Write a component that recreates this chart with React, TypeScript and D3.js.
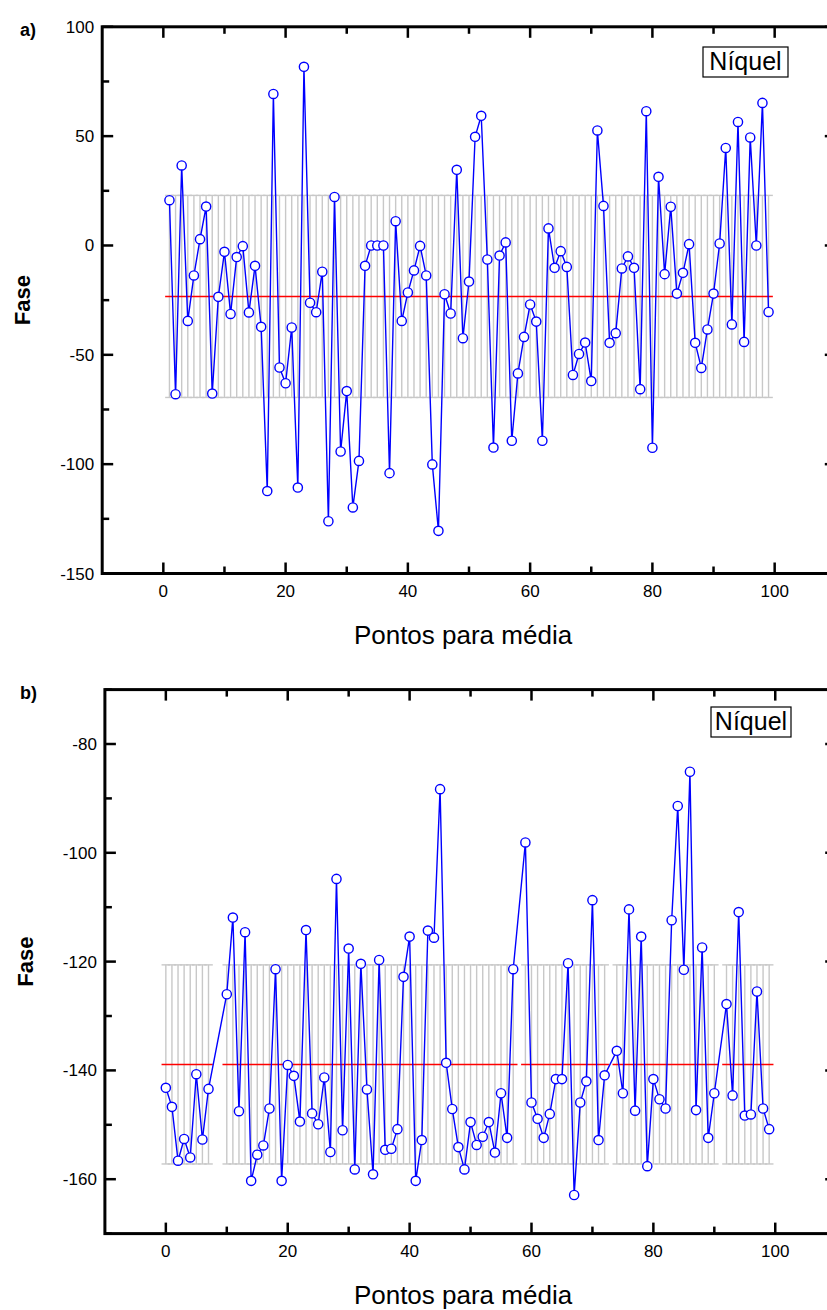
import React from 'react';
import * as d3 from 'd3';

// Horizontal axis (shared by both panels)
const xDomain: [number, number] = [-10, 110];
const xMajorTicks = [0, 20, 40, 60, 80, 100];
const xMinorTicks = [10, 30, 50, 70, 90];

// Panel a) — phase of the nickel sample, points 1..99
const phaseAStart = 1;
const phaseA: number[] = [
  20.7, -68.0, 36.6, -34.5, -13.7, 2.9, 17.8, -67.7, -23.5, -2.9,
  -31.3, -5.3, -0.3, -30.6, -9.3, -37.2, -112.3, 69.3, -55.8, -63.0,
  -37.5, -110.7, 81.7, -26.2, -30.5, -12.0, -126.1, 22.2, -94.2, -66.6,
  -119.8, -98.5, -9.3, 0.0, 0.0, 0.0, -104.1, 11.1, -34.5, -21.5,
  -11.4, -0.2, -13.7, -100.1, -130.5, -22.3, -31.1, 34.6, -42.4, -16.5,
  49.7, 59.3, -6.4, -92.4, -4.6, 1.4, -89.3, -58.5, -41.8, -27.0,
  -34.8, -89.3, 7.8, -10.2, -2.6, -9.8, -59.2, -49.6, -44.4, -62.0,
  52.6, 18.1, -44.5, -40.1, -10.5, -5.0, -10.2, -65.7, 61.4, -92.5,
  31.4, -13.1, 17.7, -22.0, -12.5, 0.6, -44.5, -56.0, -38.4, -22.0,
  0.9, 44.6, -36.1, 56.5, -44.1, 49.4, 0.0, 65.2, -30.4,
];
const meanA = -23.3;
const sdA = 46.2;
const yDomainA: [number, number] = [-150, 100];
const yMajorA = [-150, -100, -50, 0, 50, 100];
const yMinorA = [-125, -75, -25, 25, 75];

// Panel b) — points 0..99, null where no reading was taken
const phaseB: (number | null)[] = [
  -143.2, -146.7, -156.6, -152.6, -156.0, -140.7, -152.7, -143.4, null, null,
  -126.0, -111.9, -147.5, -114.6, -160.3, -155.5, -153.8, -147.0, -121.4, -160.3,
  -139.0, -141.0, -149.4, -114.2, -147.9, -149.9, -141.3, -155.0, -104.8, -151.0,
  -117.6, -158.2, -120.4, -143.5, -159.1, -119.7, -154.6, -154.4, -150.8, -122.8,
  -115.4, -160.3, -152.8, -114.3, -115.6, -88.3, -138.6, -147.1, -154.1, -158.2,
  -149.5, -153.7, -152.2, -149.5, -155.1, -144.2, -152.4, -121.4, null, -98.1,
  -145.9, -148.9, -152.4, -148.0, -141.6, -141.6, -120.3, -162.9, -145.9, -142.0,
  -108.7, -152.8, -140.9, null, -136.4, -144.2, -110.4, -147.4, -115.4, -157.6,
  -141.6, -145.3, -147.0, -112.4, -91.4, -121.5, -85.1, -147.3, -117.4, -152.4,
  -144.2, null, -127.8, -144.6, -110.9, -148.3, -148.1, -125.5, -147.0, -150.8,
];
const meanB = -138.9;
const sdB = 18.3;
const yDomainB: [number, number] = [-170, -70];
const yMajorB = [-160, -140, -120, -100, -80];
const yMinorB = [-170, -150, -130, -110, -90, -70];

const legendLabel = 'Níquel';
const xTitle = 'Pontos para média';
const yTitle = 'Fase';

const FONT = '"Liberation Sans", Arial, sans-serif';
const BLUE = '#0000ff';
const RED = '#ff0000';
const GRAY = '#c8c8c8';

type Pt = { x: number; y: number };

interface PanelProps {
  letter: string;
  left: number;
  right: number;
  top: number;
  bottom: number;
  points: Pt[];
  mean: number;
  sd: number;
  yDomain: [number, number];
  yMajor: number[];
  yMinor: number[];
  legend: { x0: number; y0: number; w: number; h: number };
}

function Panel(p: PanelProps) {
  const x = d3.scaleLinear().domain(xDomain).range([p.left, p.right]);
  const y = d3.scaleLinear().domain(p.yDomain).range([p.bottom, p.top]);

  const line = d3
    .line<Pt>()
    .x((d) => x(d.x))
    .y((d) => y(d.y));

  const capHalf = 4.3;

  // consecutive runs of x positions for the mean line
  const runs: number[][] = [];
  p.points.forEach((d, i) => {
    const prev = p.points[i - 1];
    if (!prev || d.x - prev.x > 1) runs.push([]);
    runs[runs.length - 1].push(d.x);
  });

  const yHi = y(p.mean + p.sd);
  const yLo = y(p.mean - p.sd);
  const yMean = y(p.mean);
  const major = 11;
  const minor = 7;

  return (
    <g>
      {/* ±1 standard deviation bars around the mean */}
      <g stroke={GRAY} strokeWidth={1.4} fill="none">
        {p.points.map((d) => (
          <g key={`eb${d.x}`}>
            <line x1={x(d.x)} x2={x(d.x)} y1={yHi} y2={yLo} />
            <line x1={x(d.x) - capHalf} x2={x(d.x) + capHalf} y1={yHi} y2={yHi} />
            <line x1={x(d.x) - capHalf} x2={x(d.x) + capHalf} y1={yLo} y2={yLo} />
          </g>
        ))}
      </g>
      {/* mean */}
      {runs.map((r, i) => (
        <line
          key={`m${i}`}
          x1={x(r[0]) - capHalf}
          x2={x(r[r.length - 1]) + capHalf}
          y1={yMean}
          y2={yMean}
          stroke={RED}
          strokeWidth={1.5}
        />
      ))}
      {/* measured phase */}
      <path d={line(p.points) || ''} stroke={BLUE} strokeWidth={1.4} fill="none" />
      {p.points.map((d) => (
        <circle
          key={`c${d.x}`}
          cx={x(d.x)}
          cy={y(d.y)}
          r={4.6}
          fill="#ffffff"
          stroke={BLUE}
          strokeWidth={1.4}
        />
      ))}

      {/* frame */}
      <rect
        x={p.left}
        y={p.top}
        width={p.right - p.left}
        height={p.bottom - p.top}
        fill="none"
        stroke="#000"
        strokeWidth={3}
      />
      {/* ticks, pointing inward on all four sides */}
      <g stroke="#000" strokeWidth={2.5}>
        {xMajorTicks.map((t) => (
          <g key={`xt${t}`}>
            <line x1={x(t)} x2={x(t)} y1={p.bottom} y2={p.bottom - major} />
            <line x1={x(t)} x2={x(t)} y1={p.top} y2={p.top + major} />
          </g>
        ))}
        {xMinorTicks.map((t) => (
          <g key={`xm${t}`}>
            <line x1={x(t)} x2={x(t)} y1={p.bottom} y2={p.bottom - minor} />
            <line x1={x(t)} x2={x(t)} y1={p.top} y2={p.top + minor} />
          </g>
        ))}
        {p.yMajor.map((t) => (
          <g key={`yt${t}`}>
            <line x1={p.left} x2={p.left + major} y1={y(t)} y2={y(t)} />
            <line x1={p.right} x2={p.right - major} y1={y(t)} y2={y(t)} />
          </g>
        ))}
        {p.yMinor.map((t) => (
          <g key={`ym${t}`}>
            <line x1={p.left} x2={p.left + minor} y1={y(t)} y2={y(t)} />
            <line x1={p.right} x2={p.right - minor} y1={y(t)} y2={y(t)} />
          </g>
        ))}
      </g>

      {/* tick labels */}
      <g fontFamily={FONT} fontSize={17} fill="#000">
        {xMajorTicks.map((t) => (
          <text key={`xl${t}`} x={x(t)} y={p.bottom + 23} textAnchor="middle">
            {t}
          </text>
        ))}
        {p.yMajor.map((t) => (
          <text key={`yl${t}`} x={p.left - 8} y={y(t) + 6} textAnchor="end">
            {t}
          </text>
        ))}
      </g>

      {/* axis titles */}
      <text
        x={463}
        y={p.bottom + 70}
        textAnchor="middle"
        fontFamily={FONT}
        fontSize={26}
      >
        {xTitle}
      </text>
      <text
        transform={`translate(${p.left - 72},${(p.top + p.bottom) / 2}) rotate(-90)`}
        textAnchor="middle"
        fontFamily={FONT}
        fontSize={22}
        fontWeight="bold"
      >
        {yTitle}
      </text>
      <text x={20} y={p.top + 9} fontFamily={FONT} fontSize={18} fontWeight="bold">
        {p.letter}
      </text>

      {/* legend */}
      <rect
        x={p.legend.x0}
        y={p.legend.y0}
        width={p.legend.w}
        height={p.legend.h}
        fill="#fff"
        stroke="#000"
        strokeWidth={1.2}
      />
      <text
        x={p.legend.x0 + p.legend.w / 2}
        y={p.legend.y0 + p.legend.h - 7}
        textAnchor="middle"
        fontFamily={FONT}
        fontSize={25}
      >
        {legendLabel}
      </text>
    </g>
  );
}

export default function App() {
  const pointsA: Pt[] = phaseA.map((v, i) => ({ x: i + phaseAStart, y: v }));
  const pointsB: Pt[] = phaseB
    .map((v, i) => (v === null ? null : { x: i, y: v }))
    .filter((d): d is Pt => d !== null);

  return (
    <svg
      width={827}
      height={1310}
      style={{ position: 'absolute', left: 0, top: 0, display: 'block', background: '#fff' }}
    >
      <Panel
        letter="a)"
        left={102.2}
        right={835.8}
        top={26.8}
        bottom={573.5}
        points={pointsA}
        mean={meanA}
        sd={sdA}
        yDomain={yDomainA}
        yMajor={yMajorA}
        yMinor={yMinorA}
        legend={{ x0: 703, y0: 47, w: 85, h: 30 }}
      />
      <Panel
        letter="b)"
        left={104.9}
        right={836.2}
        top={689.6}
        bottom={1233.6}
        points={pointsB}
        mean={meanB}
        sd={sdB}
        yDomain={yDomainB}
        yMajor={yMajorB}
        yMinor={yMinorB}
        legend={{ x0: 711, y0: 707, w: 80, h: 30 }}
      />
    </svg>
  );
}
